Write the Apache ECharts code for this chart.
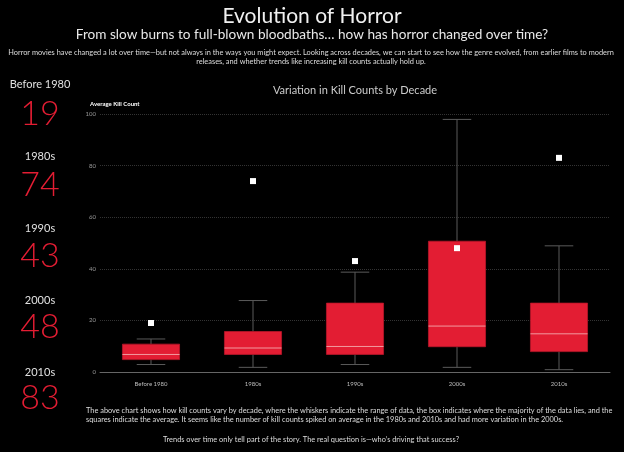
<!DOCTYPE html>
<html>
<head>
<meta charset="utf-8">
<script src="https://cdn.jsdelivr.net/npm/echarts@6/dist/echarts.min.js"></script>
<style>
  html, body { margin: 0; padding: 0; background: #000; }
  #main { width: 624px; height: 452px; }
</style>
</head>
<body>
<div id="main"></div>
<script>
  // decades and their kill count stats: [low, q1, median, q3, high]
  var decades = ['Before 1980', '1980s', '1990s', '2000s', '2010s'];
  var lows = [2.9, 1.8, 2.9, 1.8, 0.9];
  var q1s = [4.8, 6.8, 6.8, 9.8, 7.9];
  var medians = [6.8, 9.3, 9.9, 17.8, 14.8];
  var q3s = [10.8, 15.7, 26.7, 50.7, 26.7];
  var highs = [12.8, 27.7, 38.7, 97.9, 48.9];
  var means = [19, 74, 43, 48, 83];
  var yTicks = [0, 20, 40, 60, 80, 100];

  var red = '#e31d33';
  var font = 'Lato, "Noto Sans", sans-serif';

  var chart = echarts.init(document.getElementById('main'));

  var boxData = decades.map(function (d, i) {
    return [i, lows[i], q1s[i], medians[i], q3s[i], highs[i]];
  });

  function renderBox(params, api) {
    var i = api.value(0);
    var lo = api.coord([i, api.value(1)]);
    var q1 = api.coord([i, api.value(2)]);
    var md = api.coord([i, api.value(3)]);
    var q3 = api.coord([i, api.value(4)]);
    var hi = api.coord([i, api.value(5)]);
    var w = api.size([1, 0])[0] * 0.56;
    var cap = w / 2;
    var x = lo[0];
    var lineStyle = { stroke: '#5a5a5a', lineWidth: 1 };
    return {
      type: 'group',
      children: [
        { type: 'line', shape: { x1: x, y1: hi[1], x2: x, y2: q3[1] }, style: lineStyle },
        { type: 'line', shape: { x1: x, y1: q1[1], x2: x, y2: lo[1] }, style: lineStyle },
        { type: 'line', shape: { x1: x - cap / 2, y1: hi[1], x2: x + cap / 2, y2: hi[1] }, style: lineStyle },
        { type: 'line', shape: { x1: x - cap / 2, y1: lo[1], x2: x + cap / 2, y2: lo[1] }, style: lineStyle },
        { type: 'rect', shape: { x: x - w / 2, y: q3[1], width: w, height: q1[1] - q3[1] },
          style: { fill: red, stroke: '#b8172a', lineWidth: 0.8 } },
        { type: 'line', shape: { x1: x - w / 2, y1: md[1], x2: x + w / 2, y2: md[1] },
          style: { stroke: '#f29a9f', lineWidth: 1 } }
      ]
    };
  }

  // left panel: decade name + average, plus the paragraphs
  var graphics = [];
  decades.forEach(function (d, i) {
    graphics.push({
      type: 'text', x: 40, y: 84 + i * 72,
      style: { text: d, fill: '#e0e0e0', font: '11px ' + font, align: 'center', verticalAlign: 'middle' }
    });
    graphics.push({
      type: 'text', x: 40, y: 114 + i * 71,
      style: { text: String(means[i]), fill: red, font: '300 34px ' + font, align: 'center', verticalAlign: 'middle' }
    });
  });
  graphics.push({
    type: 'text', x: 90, y: 104,
    style: { text: 'Average Kill Count', fill: '#ffffff', font: 'bold 6px ' + font, verticalAlign: 'middle' }
  });
  graphics.push({
    type: 'text', x: 311, y: 57,
    style: {
      text: 'Horror movies have changed a lot over time\u2014but not always in the ways you might expect. Looking across decades, we can start to see how the genre evolved, from earlier films to modern\nreleases, and whether trends like increasing kill counts actually hold up.',
      fill: '#dddddd', font: '7.4px ' + font, align: 'center', verticalAlign: 'middle', lineHeight: 8.5
    }
  });
  graphics.push({
    type: 'text', x: 86, y: 415,
    style: {
      text: 'The above chart shows how kill counts vary by decade, where the whiskers indicate the range of data, the box indicates where the majority of the data lies, and the\nsquares indicate the average. It seems like the number of kill counts spiked on average in the 1980s and 2010s and had more variation in the 2000s.',
      fill: '#dddddd', font: '7.4px ' + font, verticalAlign: 'middle', lineHeight: 8.5
    }
  });
  graphics.push({
    type: 'text', x: 311, y: 440,
    style: {
      text: 'Trends over time only tell part of the story. The real question is\u2014who\u2019s driving that success?',
      fill: '#dddddd', font: '7.4px ' + font, align: 'center', verticalAlign: 'middle'
    }
  });

  chart.setOption({
    backgroundColor: '#000',
    animation: false,
    title: [
      { text: 'Evolution of Horror', left: 'center', top: 1,
        textStyle: { color: '#f0f0f0', fontSize: 21, fontWeight: 'normal', fontFamily: font } },
      { text: 'From slow burns to full-blown bloodbaths\u2026 how has horror changed over time?', left: 'center', top: 23,
        textStyle: { color: '#e8e8e8', fontSize: 13.6, fontWeight: 'normal', fontFamily: font } },
      { text: 'Variation in Kill Counts by Decade', left: 350, textAlign: 'center', top: 80,
        textStyle: { color: '#cccccc', fontSize: 11, fontWeight: 'normal', fontFamily: font } }
    ],
    graphic: graphics,
    grid: { left: 100, right: 14, top: 114, bottom: 80 },
    xAxis: {
      type: 'category',
      data: decades,
      offset: 4,
      axisLine: { lineStyle: { color: '#666', width: 1 } },
      axisTick: { alignWithLabel: true, length: 3, lineStyle: { color: '#666' } },
      axisLabel: { color: '#bbbbbb', fontSize: 6, fontFamily: font, margin: 5 }
    },
    yAxis: {
      type: 'value',
      min: yTicks[0],
      max: yTicks[yTicks.length - 1],
      interval: 20,
      axisLine: { show: false },
      axisTick: { show: false },
      axisLabel: { color: '#999999', fontSize: 6, fontFamily: font, margin: 4 },
      splitLine: { lineStyle: { color: '#333333', type: 'dotted', width: 1 } }
    },
    series: [
      {
        type: 'custom',
        renderItem: renderBox,
        data: boxData,
        encode: { x: 0, y: [1, 2, 3, 4, 5] },
        z: 2
      },
      {
        type: 'scatter',
        symbol: 'rect',
        symbolSize: 6,
        itemStyle: { color: '#ffffff', opacity: 1 },
        data: means.map(function (m, i) { return [i, m]; }),
        z: 3
      }
    ]
  });
</script>
</body>
</html>
